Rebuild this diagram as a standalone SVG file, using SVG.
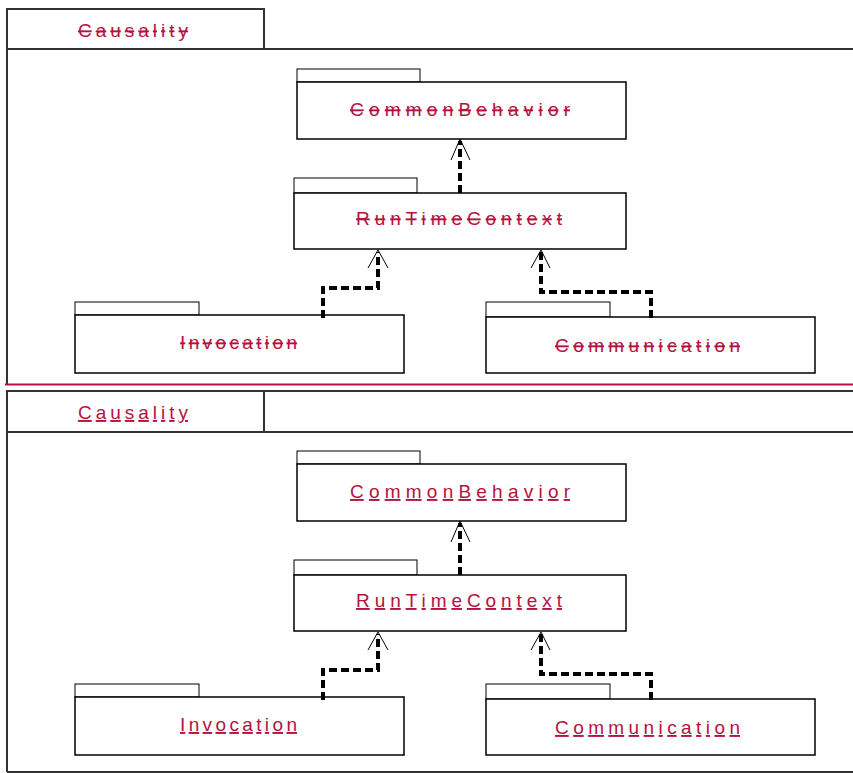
<svg xmlns="http://www.w3.org/2000/svg" width="853" height="773" viewBox="0 0 853 773">
<style>
.frame{fill:none;stroke:#333;stroke-width:2}
.tab{fill:#fff;stroke:#000;stroke-width:1}
.body{fill:#fff;stroke:#000;stroke-width:1.5}
.lbl{font-family:"Liberation Sans",Arial,sans-serif;font-size:19px;fill:#b5123e}
.s{text-decoration:line-through}
.u{text-decoration:underline}
.dep{fill:none;stroke:#000;stroke-width:4;stroke-dasharray:8 4}
.head{fill:none;stroke:#000;stroke-width:1}
</style>
<rect width="853" height="773" fill="#fff"/>
<g id="panel-top">
<rect class="frame" x="7" y="9" width="257" height="40"/>
<line class="frame" x1="7" y1="49" x2="853" y2="49"/>
<line class="frame" x1="7" y1="9" x2="7" y2="384"/>
<text class="lbl s" x="78" y="37" textLength="110" lengthAdjust="spacing">Causality</text>
</g>
<line x1="5" y1="384.5" x2="853" y2="384.5" stroke="#b5123e" stroke-width="2"/>
<g id="panel-bottom">
<rect class="frame" x="7" y="391" width="257" height="41"/>
<line class="frame" x1="7" y1="391" x2="853" y2="391"/>
<line class="frame" x1="7" y1="432" x2="853" y2="432"/>
<line class="frame" x1="7" y1="391" x2="7" y2="772"/>
<line class="frame" x1="7" y1="772" x2="853" y2="772"/>
<text class="lbl u" x="78" y="419" textLength="110" lengthAdjust="spacing">Causality</text>
</g>
<g id="top-CommonBehavior">
<rect class="tab" x="297" y="69" width="123" height="13"/>
<rect class="body" x="297" y="82" width="329" height="57"/>
<text class="lbl s" x="350" y="116" textLength="220" lengthAdjust="spacing">CommonBehavior</text>
</g>
<g id="top-RunTimeContext">
<rect class="tab" x="294" y="178" width="123" height="15"/>
<rect class="body" x="294" y="193" width="332" height="56"/>
<text class="lbl s" x="356" y="225" textLength="206" lengthAdjust="spacing">RunTimeContext</text>
</g>
<g id="top-Invocation">
<rect class="tab" x="75" y="302" width="124" height="13"/>
<rect class="body" x="75" y="315" width="329" height="58"/>
<text class="lbl s" x="180" y="349" textLength="117" lengthAdjust="spacing">Invocation</text>
</g>
<g id="top-Communication">
<rect class="tab" x="486" y="302" width="124" height="15"/>
<rect class="body" x="486" y="317" width="329" height="56"/>
<text class="lbl s" x="555" y="352" textLength="185" lengthAdjust="spacing">Communication</text>
</g>
<g id="bottom-CommonBehavior">
<rect class="tab" x="297" y="451" width="123" height="13"/>
<rect class="body" x="297" y="464" width="329" height="57"/>
<text class="lbl u" x="350" y="498" textLength="220" lengthAdjust="spacing">CommonBehavior</text>
</g>
<g id="bottom-RunTimeContext">
<rect class="tab" x="294" y="560" width="123" height="15"/>
<rect class="body" x="294" y="575" width="332" height="56"/>
<text class="lbl u" x="356" y="607" textLength="206" lengthAdjust="spacing">RunTimeContext</text>
</g>
<g id="bottom-Invocation">
<rect class="tab" x="75" y="684" width="124" height="13"/>
<rect class="body" x="75" y="697" width="329" height="58"/>
<text class="lbl u" x="180" y="731" textLength="117" lengthAdjust="spacing">Invocation</text>
</g>
<g id="bottom-Communication">
<rect class="tab" x="486" y="684" width="124" height="15"/>
<rect class="body" x="486" y="699" width="329" height="56"/>
<text class="lbl u" x="555" y="734" textLength="185" lengthAdjust="spacing">Communication</text>
</g>
<g id="connectors">
<polyline class="dep" points="460,193 460,141"/>
<polyline class="head" points="451,160 460,139 470,160"/>
<polyline class="dep" points="323,318 323,288 378,288 378,252"/>
<polyline class="head" points="368,268 378,250 388,268"/>
<polyline class="dep" points="651,318 651,292 541,292 541,252"/>
<polyline class="head" points="531,268 541,250 550,268"/>
<polyline class="dep" points="460,575 460,523"/>
<polyline class="head" points="451,542 460,521 470,542"/>
<polyline class="dep" points="323,700 323,670 378,670 378,634"/>
<polyline class="head" points="368,650 378,632 388,650"/>
<polyline class="dep" points="651,700 651,674 541,674 541,634"/>
<polyline class="head" points="531,650 541,632 550,650"/>
</g>
</svg>
